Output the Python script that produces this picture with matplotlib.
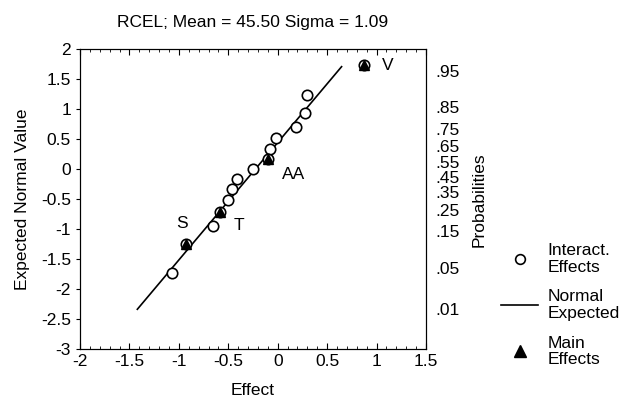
import matplotlib

matplotlib.use("Agg")
import matplotlib.pyplot as plt
from matplotlib.lines import Line2D

plt.rcParams["font.family"] = ["Liberation Sans", "DejaVu Sans"]
plt.rcParams["axes.unicode_minus"] = False

# interaction effects (open circles)
inter_x = [-1.073, -0.652, -0.507, -0.466, -0.416, -0.247, -0.079, -0.018, 0.181, 0.275, 0.298]
inter_y = [-1.736, -0.946, -0.515, -0.335, -0.165, 0.0, 0.335, 0.515, 0.714, 0.946, 1.245]

# main effects (filled triangles)
main_names = ["S", "T", "AA", "V"]
main_x = [-0.928, -0.584, -0.096, 0.872]
main_y = [-1.245, -0.714, 0.165, 1.736]

# normal expected line
line_x = [-1.42, 0.646]
line_y = [-2.337, 1.713]

x_ticks = [-2, -1.5, -1, -0.5, 0, 0.5, 1, 1.5]
x_labels = ["-2", "-1.5", "-1", "-0.5", "0", "0.5", "1", "1.5"]
y_ticks = [2, 1.5, 1, 0.5, 0, -0.5, -1, -1.5, -2, -2.5, -3]
y_labels = ["2", "1.5", "1", "0.5", "0", "-0.5", "-1", "-1.5", "-2", "-2.5", "-3"]
prob_labels = [".95", ".85", ".75", ".65", ".55", ".45", ".35", ".25", ".15", ".05", ".01"]
prob_z = [1.645, 1.036, 0.674, 0.385, 0.126, -0.126, -0.385, -0.674, -1.036, -1.645, -2.326]

label_offsets = {"S": (-3, 15), "T": (14, -10), "AA": (18, -11), "V": (17, 0)}

FS = 12.5

fig = plt.figure(figsize=(6.26, 4.01), dpi=100)
ax = fig.add_axes([0.1278, 0.1297, 0.5527, 0.7469])

ax.plot(line_x, line_y, color="black", linewidth=1.2, zorder=2)
ax.plot(inter_x, inter_y, "o", mfc="white", mec="black", mew=1.2, ms=7.5, zorder=3)
ax.plot(main_x, main_y, "o", mfc="white", mec="black", mew=1.2, ms=7.5, zorder=3)
ax.plot(main_x, main_y, "^", color="black", ms=7.5, zorder=4)
for name, x, y in zip(main_names, main_x, main_y):
    dx, dy = label_offsets[name]
    ax.annotate(name, (x, y), xytext=(dx, dy), textcoords="offset points",
                ha="center", va="center", fontsize=FS)

ax.set_xlim(-2, 1.5)
ax.set_ylim(-3, 2)
ax.set_xticks(x_ticks)
ax.set_xticklabels(x_labels)
ax.set_yticks(y_ticks)
ax.set_yticklabels(y_labels)
ax.set_xticks([v / 10 for v in range(-20, 16)], minor=True)
ax.tick_params(axis="x", which="both", direction="in", top=True, labelsize=FS)
ax.tick_params(axis="x", which="major", length=4)
ax.tick_params(axis="x", which="minor", length=2.5)
ax.tick_params(axis="y", direction="out", right=True, length=3, labelsize=FS)
ax.set_xlabel("Effect", fontsize=FS, labelpad=10)
ax.set_ylabel("Expected Normal Value", fontsize=FS, labelpad=8)
ax.set_title("RCEL; Mean = 45.50 Sigma = 1.09", fontsize=FS, pad=16)

ax2 = ax.twinx()
ax2.set_ylim(-3, 2)
ax2.set_yticks(prob_z)
ax2.set_yticklabels(prob_labels)
ax2.tick_params(axis="y", length=0, pad=7, labelsize=FS)
ax2.set_ylabel("Probabilities", fontsize=FS, labelpad=8)

handles = [
    Line2D([], [], marker="o", ls="none", mfc="white", mec="black", mew=1.2, ms=7),
    Line2D([], [], color="black", lw=1.2),
    Line2D([], [], marker="^", ls="none", color="black", ms=8),
]
labels = ["Interact.\nEffects", "Normal\nExpected", "Main\nEffects"]
leg = fig.legend(handles, labels, loc="upper left", bbox_to_anchor=(0.787, 0.415),
                 frameon=False, fontsize=FS, handlelength=2.1, handletextpad=0.55,
                 labelspacing=0.85, borderpad=0)
plt.setp(leg.get_texts(), linespacing=1.12)

fig.savefig("out.png", dpi=100)
